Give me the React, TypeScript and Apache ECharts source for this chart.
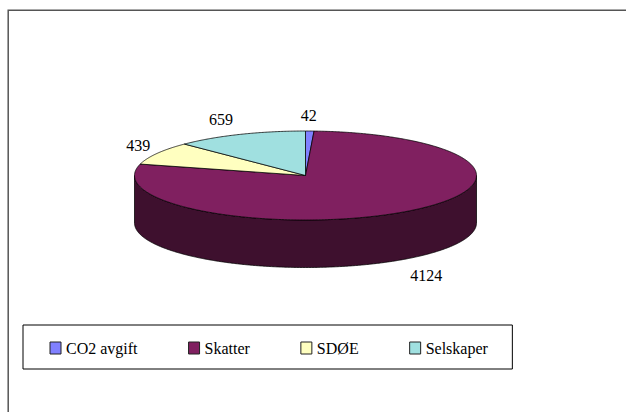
import React, { useEffect, useRef } from "react";
import * as echarts from "echarts";

const categories = ["CO2 avgift", "Skatter", "SDØE", "Selskaper"];
const revenue = [42, 4124, 439, 659];
const topColors = ["#8080FF", "#802060", "#FFFFC0", "#A0E0E0"];
const wallColors = ["#404080", "#3E102E", "#808060", "#507070"];

// Geometry of the tilted disc, in canvas pixels.
const CX = 305.5;
const CY = 175.5;
const RX = 171;
const RY = 44.5;
const DEPTH = 47.5;
const OUTLINE = "#000000";
const FONT = "Liberation Serif";

const total = revenue.reduce((a, b) => a + b, 0);

const rimPoint = (deg: number, drop = 0): number[] => {
  const t = (deg * Math.PI) / 180;
  return [CX + RX * Math.sin(t), CY - RY * Math.cos(t) + drop];
};

const arcPoints = (from: number, to: number, drop = 0): number[][] => {
  const steps = Math.max(2, Math.ceil(Math.abs(to - from) * 2));
  const pts: number[][] = [];
  for (let i = 0; i <= steps; i++) pts.push(rimPoint(from + ((to - from) * i) / steps, drop));
  return pts;
};

// Clockwise sweep of slice i, measured from twelve o'clock.
const sweepOf = (i: number): number[] => {
  const before = revenue.slice(0, i).reduce((a, b) => a + b, 0);
  return [(before / total) * 360, ((before + revenue[i]) / total) * 360];
};

const sliceElements = (i: number) => {
  const [start, end] = sweepOf(i);
  const children: any[] = [];

  // Only the front half of the rim (90 to 270 degrees) shows a wall.
  const wallFrom = Math.max(start, 90);
  const wallTo = Math.min(end, 270);
  if (wallTo > wallFrom) {
    children.push({
      type: "polygon",
      shape: {
        points: [...arcPoints(wallFrom, wallTo), ...arcPoints(wallTo, wallFrom, DEPTH)],
      },
      style: { fill: wallColors[i], stroke: OUTLINE, lineWidth: 0.75 },
    });
  }

  children.push({
    type: "polygon",
    shape: { points: [[CX, CY], ...arcPoints(start, end)] },
    style: { fill: topColors[i], stroke: OUTLINE, lineWidth: 0.75, lineJoin: "round" },
  });

  // Value label sits just outside the rim at the slice's middle angle.
  const mid = (start + end) / 2;
  const t = (mid * Math.PI) / 180;
  const [px, py] = rimPoint(mid, Math.cos(t) < 0 ? DEPTH : 0);
  const sin = Math.sin(t);
  const cos = Math.cos(t);
  const centred = Math.abs(sin) < 0.1;
  children.push({
    type: "text",
    x: centred ? px - 1 : px + (sin > 0 ? 4 : -7),
    y: py - cos * (cos < 0 ? 20 : 16),
    style: {
      text: String(revenue[i]),
      fill: "#000000",
      fontFamily: FONT,
      fontSize: 16,
      textAlign: centred ? "center" : sin > 0 ? "left" : "right",
      textVerticalAlign: "middle",
    },
  });

  return { type: "group", children };
};

export default function App() {
  const ref = useRef<HTMLDivElement>(null);

  useEffect(() => {
    const chart = echarts.init(ref.current!, undefined, { renderer: "svg" });
    chart.setOption({
      animation: false,
      backgroundColor: "#ffffff",
      graphic: [
        {
          type: "polyline",
          silent: true,
          shape: { points: [[8.2, 420], [8.2, 10.2], [640, 10.2]] },
          style: { fill: "none", stroke: "#555555", lineWidth: 1.5 },
        },
      ],
      legend: {
        left: 23,
        top: 325,
        orient: "horizontal",
        padding: [15, 24.5, 13, 26.5],
        itemGap: 50.5,
        itemWidth: 11,
        itemHeight: 12,
        borderColor: "#000000",
        borderWidth: 1,
        backgroundColor: "#ffffff",
        selectedMode: false,
        textStyle: { fontFamily: FONT, fontSize: 16, lineHeight: 16, color: "#000000" },
        data: categories.map((name, i) => ({
          name,
          icon: "rect",
          itemStyle: { color: topColors[i], borderColor: "#222222", borderWidth: 1 },
        })),
      },
      series: categories.map((name, i) => ({
        type: "custom",
        name,
        coordinateSystem: "none",
        silent: true,
        itemStyle: { color: topColors[i] },
        data: [[revenue[i]]],
        renderItem: () => sliceElements(i),
      })),
    });
    return () => chart.dispose();
  }, []);

  return (
    <div
      ref={ref}
      style={{ position: "absolute", left: 0, top: 0, width: 626, height: 412 }}
    />
  );
}
